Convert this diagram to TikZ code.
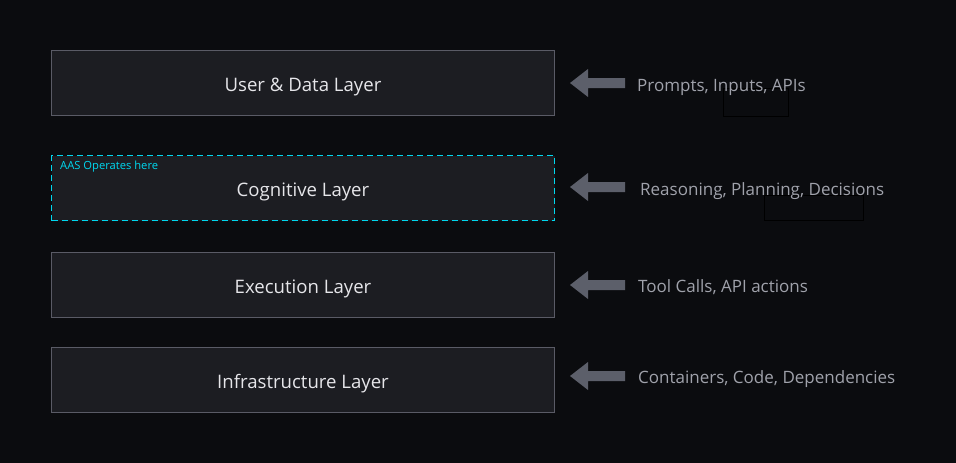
\documentclass[tikz,border=0pt]{standalone}
\usepackage{fontspec}
\setmainfont{Open Sans}
\definecolor{bg}{HTML}{0B0C0F}
\definecolor{boxfill}{HTML}{1C1D22}
\definecolor{boxline}{HTML}{5A5B66}
\definecolor{maintext}{HTML}{E6E6EA}
\definecolor{sidetext}{HTML}{A0A2AB}
\definecolor{arrowcol}{HTML}{5C5F6A}
\definecolor{aascyan}{HTML}{00D8F0}
\begin{document}
\begin{tikzpicture}[x=1pt,y=-1pt,
  layer/.style={draw=boxline, fill=boxfill, line width=1pt, minimum width=503pt, minimum height=65pt, anchor=north west, inner sep=0pt, text=maintext, font=\fontsize{18.6}{22}\selectfont, text depth=0pt, text height=16pt},
  cogbox/.style={layer, draw=aascyan, dashed, dash pattern=on 6pt off 4pt},
  side/.style={text=sidetext, anchor=west, inner sep=0pt, font=\fontsize{17}{20}\selectfont, text depth=0pt, text height=14pt},
  blockarrow/.style={fill=arrowcol, draw=none},
  ghost/.style={draw=black, line width=0.8pt}
]
\fill[bg] (0,0) rectangle (956,463);
\useasboundingbox (0,0) rectangle (956,463);

\node[layer] (l1) at (51,50) {User \& Data Layer};
\node[cogbox] (l2) at (51,155) {Cognitive Layer};
\node[layer] (l3) at (51,252) {Execution Layer};
\node[layer] (l4) at (51,347) {Infrastructure Layer};

\node[text=aascyan, anchor=west, inner sep=0pt, font=\fontsize{11.2}{13}\selectfont] (aas) at (60,167) {AAS Operates here};

% ghost rectangles
\draw[ghost] (723,88) rectangle (788,116);
\draw[ghost] (764,195) rectangle (863,220);

\node[side] (t1) at (637,84) {Prompts, Inputs, APIs};
\node[side] (t2) at (640,188) {Reasoning, Planning, Decisions};
\node[side] (t3) at (638,285) {Tool Calls, API actions};
\node[side] (t4) at (638,376) {Containers, Code, Dependencies};

\foreach \y/\n in {83/a1,187/a2,285/a3,376/a4}{
  \coordinate (\n) at (570,\y);
  \fill[blockarrow] (\n) -- ++(18,-14) -- ++(0,9) -- ++(37,0) -- ++(0,10) -- ++(-37,0) -- ++(0,9) -- cycle;
}
\end{tikzpicture}
\end{document}
